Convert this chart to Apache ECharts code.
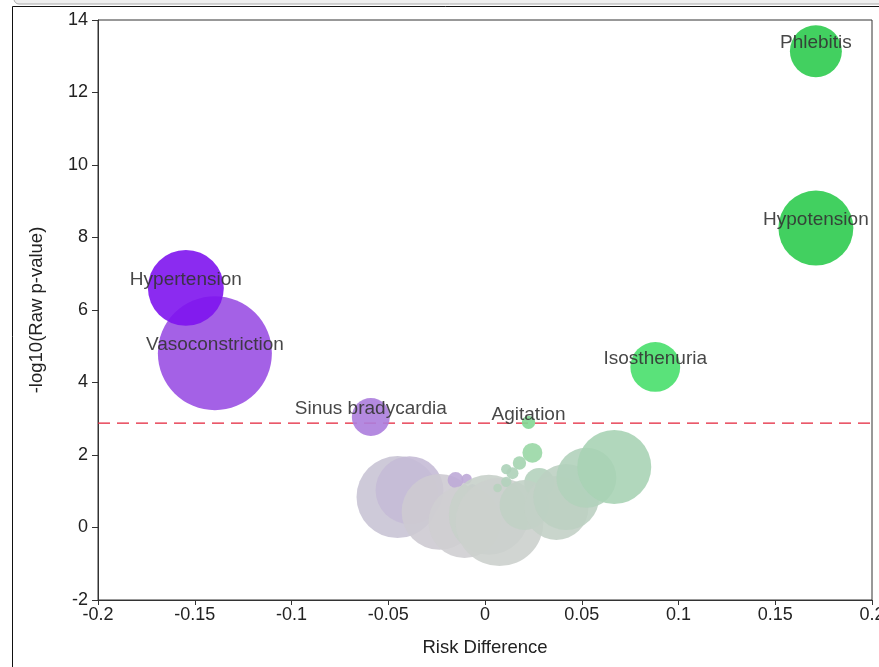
<!DOCTYPE html>
<html>
<head>
<meta charset="utf-8">
<script src="https://cdn.jsdelivr.net/npm/echarts@6/dist/echarts.min.js"></script>
<style>
html,body{margin:0;padding:0;background:#fff;}
#chart{width:879px;height:667px;}
</style>
</head>
<body>
<div id="chart"></div>
<script>
// ---- data ----
var names = ["Phlebitis","Hypotension","Isosthenuria","Vasoconstriction","Hypertension","Sinus bradycardia","Agitation",
  "","","","","","","","","","","","","","","","","","","","",""];
var riskDiff = [0.171,0.171,0.088,-0.1396,-0.1546,-0.059,0.0225,
  -0.0452,-0.039,-0.0235,-0.0152,-0.0095,-0.0065,-0.0106,0.002,0.0075,
  0.0065,0.011,0.011,0.0142,0.0178,0.0245,0.028,0.0204,0.0369,0.042,0.0524,0.0668];
var logP = [13.14,8.26,4.43,4.81,6.61,3.05,2.90,
  0.84,1.03,0.43,1.31,1.34,1.06,0.15,0.35,0.15,
  1.09,1.26,1.61,1.50,1.78,2.06,1.23,0.62,0.54,0.84,1.37,1.67];
var eventCount = [75,156,69,361,160,40,5,
  187,128,160,7,3,3,144,178,215,
  2,3,3,4,5,11,25,69,114,121,100,152];
var threshold = 2.88;
var xTicks = {min:-0.2, max:0.2, step:0.05};
var yTicks = {min:-2, max:14, step:2};

// ---- colour ramps (style) ----
var purpleStops = [[0,[208,208,208]],[0.9,[201,195,213]],[1.3,[190,170,215]],[3.05,[172,125,221]],[4.8,[154,80,227]],[6.6,[126,20,238]]];
var greenStops = [[0,[208,208,208]],[0.8,[189,208,194]],[1.6,[172,210,184]],[2.0,[155,215,166]],[2.9,[130,215,147]],[4.4,[72,223,107]],[8,[46,203,79]]];
function ramp(stops, v){
  if (v <= stops[0][0]) return stops[0][1];
  for (var i=1;i<stops.length;i++){
    if (v <= stops[i][0]){
      var a=stops[i-1], b=stops[i], t=(v-a[0])/(b[0]-a[0]);
      return [0,1,2].map(function(k){return Math.round(a[1][k]+(b[1][k]-a[1][k])*t);});
    }
  }
  return stops[stops.length-1][1];
}
function colorFor(x,y){
  var c = ramp(x<0?purpleStops:greenStops, y);
  return 'rgb('+c[0]+','+c[1]+','+c[2]+')';
}

var data = riskDiff.map(function(x,i){ return {value:[x,logP[i],eventCount[i]], name:names[i]}; });

var FONT = '"Liberation Sans", Arial, sans-serif';
var chart = echarts.init(document.getElementById('chart'), null, {renderer:'canvas'});
chart.setOption({
  animation:false,
  backgroundColor:'#fff',
  grid:{left:98, top:20, width:774, height:580, outerBoundsMode:'none', containLabel:false,
    show:true, borderColor:'#333', borderWidth:1, backgroundColor:'transparent'},
  xAxis:{type:'value', min:xTicks.min, max:xTicks.max, interval:xTicks.step,
    name:'Risk Difference', nameLocation:'middle', nameGap:38,
    nameTextStyle:{fontSize:18.5, color:'#222', fontFamily:FONT},
    axisLine:{show:true, onZero:false, lineStyle:{color:'#333', width:1}},
    axisTick:{show:true, inside:false, length:5, lineStyle:{color:'#333'}},
    axisLabel:{fontSize:18, color:'#222', fontFamily:FONT, margin:6, showMaxLabel:true, showMinLabel:true, hideOverlap:false},
    splitLine:{show:false}},
  yAxis:{type:'value', min:yTicks.min, max:yTicks.max, interval:yTicks.step,
    name:'-log10(Raw p-value)', nameLocation:'middle', nameGap:52,
    nameTextStyle:{fontSize:18.5, color:'#222', fontFamily:FONT},
    axisLine:{show:true, onZero:false, lineStyle:{color:'#333', width:1}},
    axisTick:{show:true, inside:false, length:6, lineStyle:{color:'#333'}},
    axisLabel:{fontSize:18, color:'#222', fontFamily:FONT, margin:10},
    splitLine:{show:false}},
  series:[{
    type:'line',
    data:[[xTicks.min, threshold],[xTicks.max, threshold]],
    symbol:'none', silent:true, z:1,
    lineStyle:{color:'#e4233a', type:[12,7], width:1.3},
    emphasis:{disabled:true}
  },{
    type:'scatter',
    data:data, z:2,
    symbolSize:function(v){ return 6*Math.sqrt(v[2]); },
    itemStyle:{opacity:0.9, color:function(p){ return colorFor(p.value[0], p.value[1]); }},
    label:{show:true, position:'inside', offset:[0,-8], formatter:function(p){return p.name;},
      fontSize:19, color:'#333', fontFamily:FONT},
    emphasis:{disabled:true}
  }],
  graphic:[
    {type:'rect', shape:{x:14, y:-8, width:900, height:12, r:5}, style:{fill:'#efefef', stroke:'#aaa', lineWidth:1}, z:10},
    {type:'line', shape:{x1:12.5, y1:6.5, x2:879, y2:6.5}, style:{stroke:'#111', lineWidth:1}, z:10},
    {type:'line', shape:{x1:12.5, y1:6.5, x2:12.5, y2:667}, style:{stroke:'#111', lineWidth:1}, z:10}
  ]
});
</script>
</body>
</html>
